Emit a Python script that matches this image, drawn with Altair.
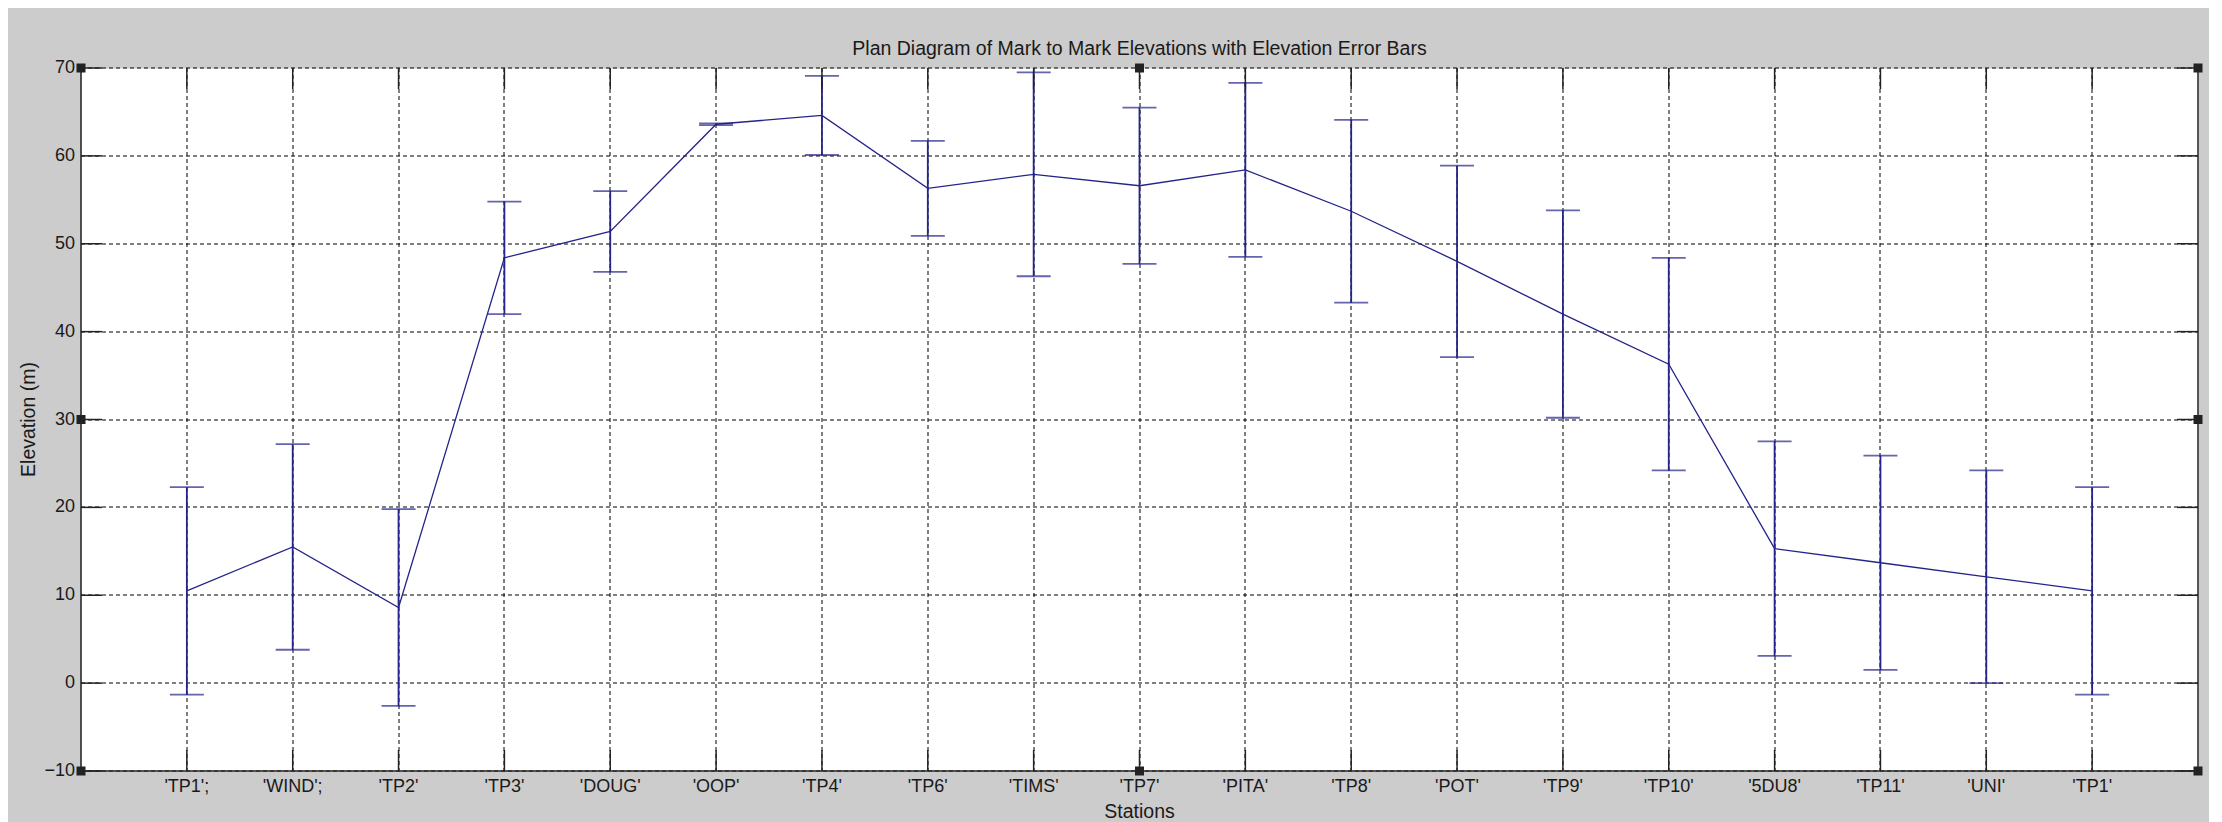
import json
import altair as alt
import pandas as pd

# ---- data ----
stations = ["'TP1';", "'WIND';", "'TP2'", "'TP3'", "'DOUG'", "'OOP'", "'TP4'",
            "'TP6'", "'TIMS'", "'TP7'", "'PITA'", "'TP8'", "'POT'", "'TP9'",
            "'TP10'", "'5DU8'", "'TP11'", "'UNI'", "'TP1'"]
elevation = [10.5, 15.5, 8.6, 48.4, 51.4, 63.6, 64.6, 56.3, 57.9, 56.6,
             58.4, 53.7, 48.0, 42.0, 36.3, 15.3, 13.7, 12.1, 10.5]
error = [11.8, 11.7, 11.2, 6.4, 4.6, 0.1, 4.5, 5.4, 11.6, 8.9,
         9.9, 10.4, 10.9, 11.8, 12.1, 12.2, 12.2, 12.1, 11.8]
y_ticks = [-10, 0, 10, 20, 30, 40, 50, 60, 70]

# ---- layout ----
W, H = 2117, 703
X_MIN, X_MAX = 0, len(stations) + 1
Y_MIN, Y_MAX = -10, 70
TICK_PX = 21
FONT = "Liberation Sans"
NAVY = "#24248a"
INK = "#1a1a1a"

idx = list(range(1, len(stations) + 1))
df = pd.DataFrame({"idx": idx, "station": stations, "elev": elevation, "err": error})
df["lo"] = df["elev"] - df["err"]
df["hi"] = df["elev"] + df["err"]

xs = alt.Scale(domain=[X_MIN, X_MAX], nice=False, zero=False)
ys = alt.Scale(domain=[Y_MIN, Y_MAX], nice=False, zero=False)

tx = TICK_PX / W * (X_MAX - X_MIN)
ty = TICK_PX / H * (Y_MAX - Y_MIN)
rows = []
for i in idx:
    rows.append({"x": i, "x2": i, "y": Y_MIN, "y2": Y_MIN + ty})
    rows.append({"x": i, "x2": i, "y": Y_MAX, "y2": Y_MAX - ty})
for v in y_ticks:
    rows.append({"x": X_MIN, "x2": X_MIN + tx, "y": v, "y2": v})
    rows.append({"x": X_MAX, "x2": X_MAX - tx, "y": v, "y2": v})
rows.append({"x": X_MAX, "x2": X_MAX, "y": Y_MIN, "y2": Y_MAX})  # right border
ticks_df = pd.DataFrame(rows)

mid_x = (X_MIN + X_MAX) / 2
mid_y = (Y_MIN + Y_MAX) / 2
handles_df = pd.DataFrame([
    {"x": X_MIN, "y": Y_MAX}, {"x": mid_x, "y": Y_MAX}, {"x": X_MAX, "y": Y_MAX},
    {"x": X_MIN, "y": mid_y}, {"x": X_MAX, "y": mid_y},
    {"x": X_MIN, "y": Y_MIN}, {"x": mid_x, "y": Y_MIN}, {"x": X_MAX, "y": Y_MIN},
])

label_expr = json.dumps(stations) + "[datum.value - 1]"

x_axis = alt.Axis(values=idx, labelExpr=label_expr, grid=True, gridDash=[4, 3],
                  gridColor="black", gridOpacity=1, gridWidth=1, ticks=False, tickSize=0,
                  translate=0, zindex=0,
                  domain=True, domainColor="#222222", domainWidth=1.5,
                  labelFont=FONT, labelFontSize=18, labelColor=INK, labelPadding=7,
                  labelFlush=False, labelOverlap=False,
                  title="Stations", titleFont=FONT, titleFontSize=19.5,
                  titleFontWeight="normal", titleColor=INK, titleX=W / 2, titleY=47,
                  titleBaseline="alphabetic", titleAlign="center")
y_axis = alt.Axis(values=y_ticks, grid=True, gridDash=[4, 3], gridColor="black",
                  gridOpacity=1, gridWidth=1, ticks=False, tickSize=0,
                  translate=0, zindex=0,
                  domain=True, domainColor="#222222", domainWidth=1.5,
                  labelFont=FONT, labelFontSize=18, labelColor=INK, labelPadding=6,
                  labelFlush=False, labelOverlap=False,
                  title="Elevation (m)", titleFont=FONT, titleFontSize=19.5,
                  titleFontWeight="normal", titleColor=INK, titleX=-46, titleY=H / 2,
                  titleAngle=270, titleBaseline="alphabetic", titleAlign="center")

base = alt.Chart(df)

line = base.mark_line(color=NAVY, strokeWidth=1.3).encode(
    x=alt.X("idx:Q", scale=xs, axis=x_axis),
    y=alt.Y("elev:Q", scale=ys, axis=y_axis),
)

bars = base.mark_rule(color=NAVY, strokeWidth=1.8).encode(
    x=alt.X("idx:Q", scale=xs, axis=x_axis),
    y=alt.Y("lo:Q", scale=ys, axis=y_axis),
    y2="hi:Q",
)

cap_lo = base.mark_tick(color=NAVY, orient="horizontal", size=34, thickness=1.8).encode(
    x=alt.X("idx:Q", scale=xs, axis=x_axis),
    y=alt.Y("lo:Q", scale=ys, axis=y_axis),
)
cap_hi = base.mark_tick(color=NAVY, orient="horizontal", size=34, thickness=1.8).encode(
    x=alt.X("idx:Q", scale=xs, axis=x_axis),
    y=alt.Y("hi:Q", scale=ys, axis=y_axis),
)

ticks = alt.Chart(ticks_df).mark_rule(color="#222222", strokeWidth=1.5).encode(
    x=alt.X("x:Q", scale=xs, axis=x_axis),
    x2="x2:Q",
    y=alt.Y("y:Q", scale=ys, axis=y_axis),
    y2="y2:Q",
)

handles = alt.Chart(handles_df).mark_square(size=81, color="#222222", opacity=1).encode(
    x=alt.X("x:Q", scale=xs, axis=x_axis),
    y=alt.Y("y:Q", scale=ys, axis=y_axis),
)

chart = alt.layer(line, bars, cap_lo, cap_hi, ticks, handles).properties(
    width=W,
    height=H,
    padding={"left": 73, "top": 60, "right": 11, "bottom": 51},
    autosize=alt.AutoSizeParams(type="none"),
    title=alt.TitleParams(
        text="Plan Diagram of Mark to Mark Elevations with Elevation Error Bars",
        font=FONT, fontSize=19.5, fontWeight="normal", color=INK,
        anchor="middle", frame="group", baseline="alphabetic", offset=14, dy=29,
    ),
).configure(background="#cccccc").configure_view(fill="white", stroke="transparent")

chart.save("out.html", embed_options={"renderer": "svg", "actions": False})
